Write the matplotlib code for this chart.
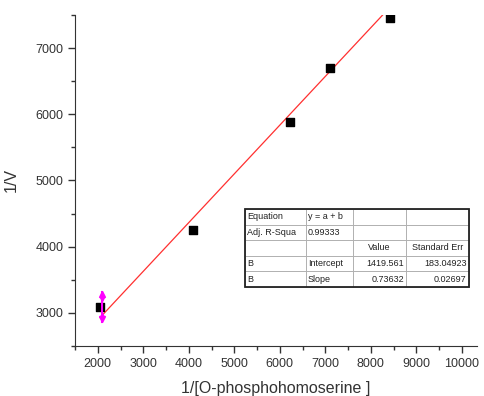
import numpy as np
import matplotlib
matplotlib.use('Agg')
import matplotlib.pyplot as plt

plt.rcParams['font.family'] = ['Liberation Sans', 'DejaVu Sans']

# data points
x = [2050, 4090, 6215, 7110, 8410]
y = [3085, 4250, 5885, 6700, 7455]
# linear fit shown in the table
intercept = 1419.561
slope = 0.73632
err_lo = 2865
err_hi = 3320

table_rows = [
    ['Equation', 'y = a + b', '', ''],
    ['Adj. R-Squa', '0.99333', '', ''],
    ['', '', 'Value', 'Standard Err'],
    ['B', 'Intercept', '1419.561', '183.04923'],
    ['B', 'Slope', '0.73632', '0.02697'],
]

W, H = 484, 396
fig = plt.figure(figsize=(W / 100, H / 100), dpi=100)
ax = fig.add_axes([75 / W, (H - 346) / H, (477 - 75) / W, (346 - 15) / H])

xf = np.array([x[0], x[-1]])
ax.plot(xf, intercept + slope * xf, color='#ff3030', lw=0.9, zorder=2)
ax.scatter(x, y, marker='s', s=40, color='black', zorder=3)
# magenta error marker on the first point
xe = x[0] + 40
ax.plot([xe, xe], [err_lo, err_hi], color='magenta', lw=1.5, zorder=4)
ax.plot([xe], [err_hi - 40], marker='^', ms=4.5, color='magenta', zorder=4)
ax.plot([xe], [err_lo + 40], marker='v', ms=4.5, color='magenta', zorder=4)
ax.plot([xe], [err_hi - 110], marker='v', ms=3, color='magenta', zorder=4)
ax.plot([xe], [err_lo + 110], marker='^', ms=3, color='magenta', zorder=4)

ax.set_xlim(1500, 10330)
ax.set_ylim(2500, 7500)
ax.set_xticks(np.arange(2000, 10001, 1000))
ax.set_xticks(np.arange(1500, 10001, 500), minor=True)
ax.set_yticks(np.arange(3000, 7001, 1000))
ax.set_yticks(np.arange(2500, 7501, 500), minor=True)
ax.tick_params(which='major', direction='out', length=5, width=1, labelsize=9,
               colors='#333333', labelcolor='#333333')
ax.tick_params(which='minor', direction='out', length=3, width=1, colors='#333333')
ax.spines['top'].set_visible(False)
ax.spines['right'].set_visible(False)
for s in ('left', 'bottom'):
    ax.spines[s].set_color('#333333')
ax.set_xlabel('1/[O-phosphohomoserine ]', fontsize=11.5, color='#333333', labelpad=8)
ax.set_ylabel('1/V', fontsize=11.5, color='#333333', labelpad=12)

# fit summary table
x0, x1 = 245, 469
y0, y1 = 209, 287
tb = ax.table(cellText=table_rows, colWidths=[61, 47, 53, 63],
              bbox=[(x0 - 75) / (477 - 75), (346 - y1) / (346 - 15),
                    (x1 - x0) / (477 - 75), (y1 - y0) / (346 - 15)])
tb.auto_set_font_size(False)
tb.set_fontsize(6.5)
for (r, c), cell in tb.get_celld().items():
    cell.set_edgecolor('#aaaaaa')
    cell.set_linewidth(0.6)
    cell.PAD = 0.04
    txt = cell.get_text()
    txt.set_color('#222222')
    if c >= 2 and r != 2:
        txt.set_ha('right')
        cell._loc = 'right'
    else:
        cell._loc = 'left'
        txt.set_ha('left')
    if r == 2 and c >= 2:
        cell._loc = 'center'
        txt.set_ha('center')
tb.set_zorder(5)
frame = plt.Rectangle(((x0 - 75) / (477 - 75), (346 - y1) / (346 - 15)),
                      (x1 - x0) / (477 - 75), (y1 - y0) / (346 - 15),
                      transform=ax.transAxes, fill=False, lw=1.3,
                      edgecolor='#222222', zorder=6)
ax.add_patch(frame)

fig.savefig('out.png', dpi=100)
